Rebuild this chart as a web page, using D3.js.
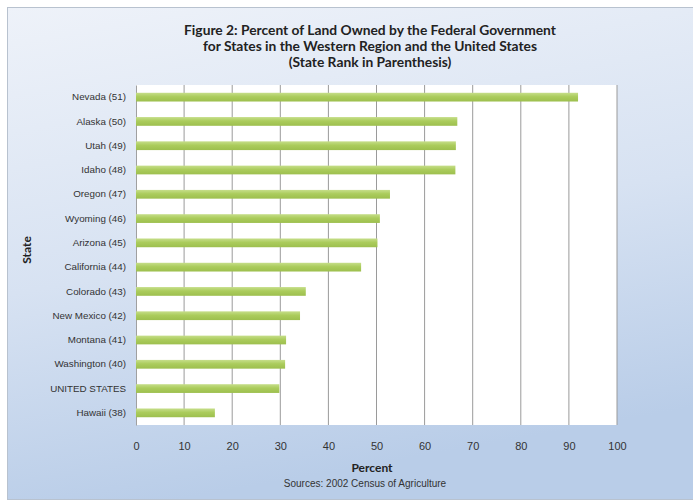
<!DOCTYPE html>
<html>
<head>
<meta charset="utf-8">
<script src="https://cdn.jsdelivr.net/npm/d3@7"></script>
<style>
  body { margin: 0; background: #fff; }
  svg { display: block; font-family: Lato, "Open Sans", sans-serif; }
</style>
</head>
<body>
<svg></svg>
<script>
let width = 693;
let height = 500;

// states top to bottom, rank in parenthesis
let states = ['Nevada (51)', 'Alaska (50)', 'Utah (49)', 'Idaho (48)', 'Oregon (47)',
    'Wyoming (46)', 'Arizona (45)', 'California (44)', 'Colorado (43)', 'New Mexico (42)',
    'Montana (41)', 'Washington (40)', 'UNITED STATES', 'Hawaii (38)'];
let percents = [91.9, 66.8, 66.5, 66.4, 52.8, 50.7, 50.2, 46.8, 35.3, 34.1, 31.2, 31.0, 29.8, 16.4];
let xTicks = [0, 10, 20, 30, 40, 50, 60, 70, 80, 90, 100];
let titleLines = ['Figure 2: Percent of Land Owned by the Federal Government',
    'for States in the Western Region and the United States',
    '(State Rank in Parenthesis)'];

let svg = d3.select('svg')
    .attr('width', width)
    .attr('height', height);

let defs = svg.append('defs');
let bg = defs.append('linearGradient')
    .attr('id', 'bg')
    .attr('x1', 0).attr('y1', 0).attr('x2', 0.25).attr('y2', 1);
bg.append('stop').attr('offset', '0%').attr('stop-color', '#eef2f9');
bg.append('stop').attr('offset', '55%').attr('stop-color', '#d7e2f2');
bg.append('stop').attr('offset', '100%').attr('stop-color', '#b9cde8');

let barGrad = defs.append('linearGradient')
    .attr('id', 'bar')
    .attr('x1', 0).attr('y1', 0).attr('x2', 0).attr('y2', 1);
barGrad.append('stop').attr('offset', '0%').attr('stop-color', '#c6de8a');
barGrad.append('stop').attr('offset', '45%').attr('stop-color', '#abcc5c');
barGrad.append('stop').attr('offset', '100%').attr('stop-color', '#9dbf4e');

// chart frame
svg.append('rect')
    .attr('x', 7.5).attr('y', 7.5)
    .attr('width', width - 7).attr('height', height - 8)
    .attr('fill', 'url(#bg)')
    .attr('stroke', '#b8c2cf');

let margin = {left: 136, right: 76, top: 85, bottom: 75};

let x = d3.scaleLinear()
    .domain([0, 100])
    .range([margin.left, width - margin.right]);

let y = d3.scaleBand()
    .domain(states)
    .range([margin.top, height - margin.bottom])
    .paddingInner(0.64)
    .paddingOuter(0.32);

// plot area
svg.append('rect')
    .attr('x', x(0)).attr('y', margin.top)
    .attr('width', x(100) - x(0))
    .attr('height', height - margin.bottom - margin.top)
    .attr('fill', '#fff');

// gridlines
svg.append('g')
    .selectAll('line')
    .data(xTicks.slice(1))
    .enter()
    .append('line')
    .attr('x1', d => x(d)).attr('x2', d => x(d))
    .attr('y1', margin.top).attr('y2', height - margin.bottom)
    .attr('stroke', '#9a9a9a')
    .attr('stroke-width', 1);

// y axis
let yAxis = svg.append('g')
    .attr('transform', `translate(${x(0)},0)`)
    .call(d3.axisLeft(y).tickSize(0).tickPadding(10));
yAxis.select('.domain').attr('stroke', '#a0a0a0');
yAxis.selectAll('text')
    .style('font-size', '9.8px')
    .attr('fill', '#333');

// x axis labels
let xAxis = svg.append('g')
    .attr('transform', `translate(0,${height - margin.bottom})`)
    .call(d3.axisBottom(x).tickValues(xTicks).tickSize(0).tickPadding(17));
xAxis.select('.domain').remove();
xAxis.selectAll('text')
    .style('font-size', '11px')
    .attr('fill', '#333');

// bars
svg.append('g')
    .selectAll('rect')
    .data(percents)
    .enter()
    .append('rect')
    .attr('x', x(0))
    .attr('y', (d, i) => y(states[i]))
    .attr('width', d => x(d) - x(0))
    .attr('height', y.bandwidth())
    .attr('fill', 'url(#bar)');

// title
svg.append('text')
    .attr('text-anchor', 'middle')
    .style('font-size', '13.8px')
    .style('font-weight', 'bold')
    .attr('fill', '#222')
    .selectAll('tspan')
    .data(titleLines)
    .enter()
    .append('tspan')
    .attr('x', 370)
    .attr('y', (d, i) => 35 + i * 16)
    .text(d => d);

// axis titles
svg.append('text')
    .attr('x', 372).attr('y', 472)
    .attr('text-anchor', 'middle')
    .style('font-size', '12px')
    .style('font-weight', 'bold')
    .attr('fill', '#222')
    .text('Percent');

svg.append('text')
    .attr('x', 365).attr('y', 487)
    .attr('text-anchor', 'middle')
    .style('font-family', '"Liberation Sans", Arial, sans-serif')
    .style('font-size', '10px')
    .attr('fill', '#333')
    .text('Sources: 2002 Census of Agriculture');

svg.append('text')
    .attr('transform', 'translate(31,250) rotate(-90)')
    .attr('text-anchor', 'middle')
    .style('font-size', '12px')
    .style('font-weight', 'bold')
    .attr('fill', '#222')
    .text('State');
</script>
</body>
</html>
